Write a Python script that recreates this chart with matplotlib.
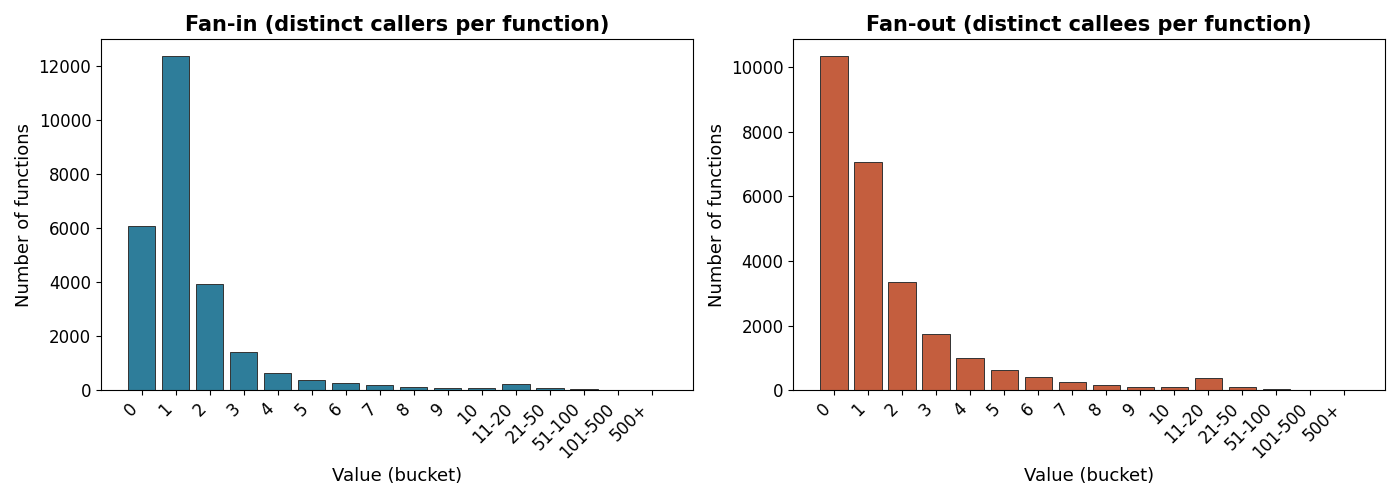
import numpy as np
import matplotlib
matplotlib.use('Agg')
import matplotlib.pyplot as plt

buckets = ['0', '1', '2', '3', '4', '5', '6', '7', '8', '9', '10',
           '11-20', '21-50', '51-100', '101-500', '500+']

# so luong ham theo tung bucket
fan_in = [6060, 12370, 3926, 1404, 621, 360, 248, 174, 99, 62, 62,
          210, 74, 37, 3, 1]
fan_out = [10341, 7071, 3360, 1732, 979, 608, 392, 265, 165, 103, 103,
           381, 103, 20, 2, 1]

fig, axes = plt.subplots(1, 2, figsize=(14, 5), dpi=100)

x = np.arange(len(buckets))
panels = [
    (axes[0], fan_in, '#2e7d9a', 'Fan-in (distinct callers per function)'),
    (axes[1], fan_out, '#c45e3e', 'Fan-out (distinct callees per function)'),
]
for ax, vals, col, title in panels:
    ax.bar(x, vals, color=col, edgecolor='#333333', linewidth=0.7)
    ax.set_xticks(x)
    ax.set_xticklabels(buckets, rotation=45, ha='right', fontsize=12)
    ax.tick_params(axis='y', labelsize=12)
    ax.set_title(title, fontsize=15, fontweight='bold')
    ax.set_xlabel('Value (bucket)', fontsize=13)
    ax.set_ylabel('Number of functions', fontsize=13)

plt.tight_layout()
plt.savefig('out.png')
